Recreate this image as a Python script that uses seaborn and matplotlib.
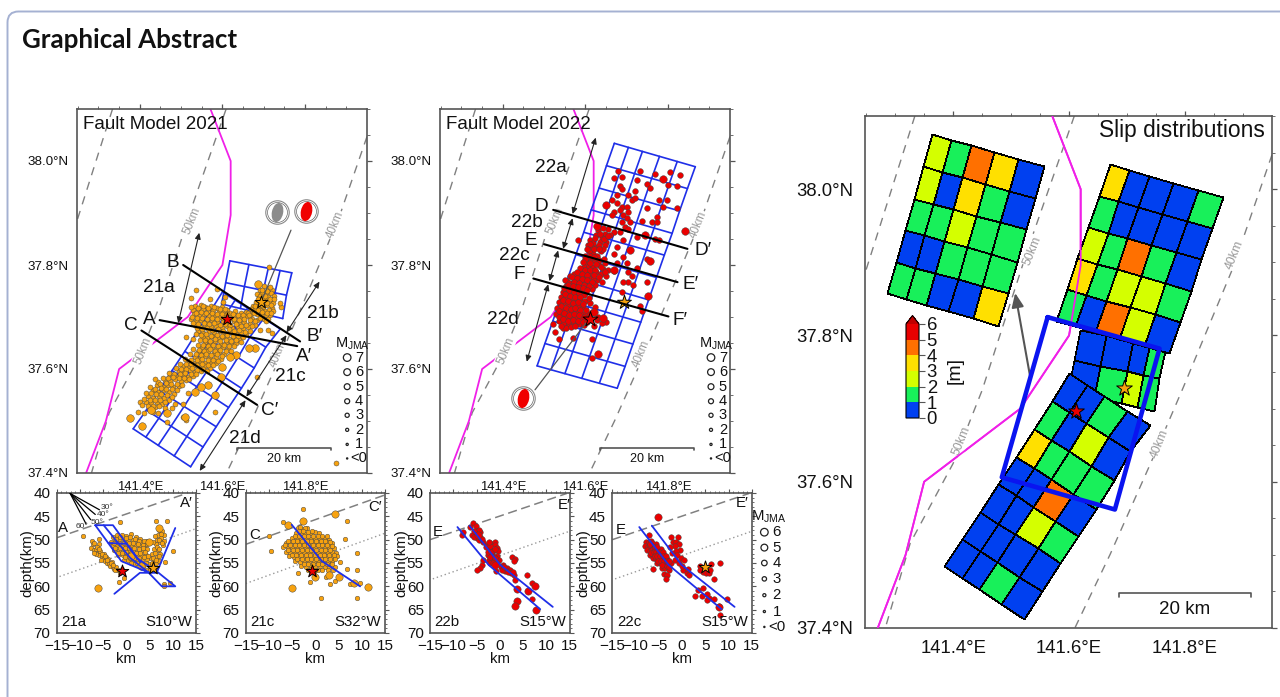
"""
Graphical abstract: fault models 2021 / 2022, depth sections and slip distributions.
"""

import matplotlib
matplotlib.use("Agg")
import matplotlib.pyplot as plt
import numpy as np
import seaborn as sns
from matplotlib.cm import ScalarMappable
from matplotlib.colors import BoundaryNorm, ListedColormap
from matplotlib.markers import MarkerStyle
from matplotlib.patches import FancyBboxPatch
from matplotlib.transforms import Affine2D

# --- map lines (lon, lat) ---
COAST_LON = [141.571, 141.62, 141.62, 141.6, 141.516, 141.35, 141.318, 141.27]
COAST_LAT = [38.1, 38.0, 37.896, 37.8, 37.7, 37.6, 37.5, 37.4]
ISO60_LON = [141.334, 141.248]
ISO60_LAT = [38.1, 37.885]
ISO50_LON = [141.609, 141.528, 141.45, 141.4, 141.326, 141.283]
ISO50_LAT = [38.1, 37.916, 37.725, 37.625, 37.516, 37.4]
ISO40_LON = [141.95, 141.883, 141.797, 141.745, 141.671, 141.61]
ISO40_LAT = [38.047, 37.893, 37.729, 37.633, 37.501, 37.4]
ISO_LABELS = [("50km", 141.527, 37.885), ("50km", 141.407, 37.636),
              ("40km", 141.873, 37.877), ("40km", 141.735, 37.63)]
ISO_LABELS_SLIP = [("50km", 141.536, 37.916), ("50km", 141.415, 37.656),
                   ("40km", 141.886, 37.91), ("40km", 141.757, 37.652)]

# --- fault grids: edge nodes and column fractions ---
SOUTH_LEFT = [(141.384, 37.485), (141.416, 37.521), (141.447, 37.558), (141.478, 37.597),
              (141.509, 37.634), (141.539, 37.672), (141.57, 37.71), (141.6, 37.748)]
SOUTH_RIGHT = [(141.523, 37.412), (141.553, 37.45), (141.585, 37.489), (141.615, 37.526),
               (141.646, 37.563), (141.677, 37.602), (141.705, 37.642), (141.74, 37.677)]
SOUTH_COLS = [0, 0.22, 0.436, 0.714, 1]
NORTH_LEFT = [(141.598, 37.725), (141.608, 37.766), (141.618, 37.808)]
NORTH_RIGHT = [(141.746, 37.697), (141.755, 37.742), (141.768, 37.785)]
NORTH_COLS = [0, 0.308, 0.62, 0.81, 1]
GRID22_LEFT = [(141.670, 38.034), (141.651, 37.991), (141.633, 37.948), (141.614, 37.906),
               (141.596, 37.863), (141.577, 37.820), (141.559, 37.778), (141.540, 37.735),
               (141.521, 37.692), (141.502, 37.649), (141.483, 37.606)]
GRID22_RIGHT = [(141.866, 37.989), (141.847, 37.947), (141.828, 37.904), (141.810, 37.861),
                (141.791, 37.819), (141.772, 37.776), (141.753, 37.733), (141.734, 37.690),
                (141.715, 37.648), (141.696, 37.605), (141.677, 37.563)]
GRID22_COLS = [0, 0.174, 0.347, 0.558, 0.777, 1]
SHIFT_LEFT = [(141.363, 38.075), (141.348, 38.031), (141.333, 37.987),
              (141.317, 37.944), (141.302, 37.900), (141.286, 37.858)]
SHIFT_RIGHT = [(141.557, 38.032), (141.541, 37.988), (141.526, 37.945),
               (141.510, 37.901), (141.494, 37.858), (141.478, 37.813)]
SHIFT_COLS = [0, 0.17, 0.35, 0.55, 0.77, 1]

# --- slip classes [m], rows follow the order of the edge nodes above ---
SLIP_SHIFT = [[2.5, 1.5, 4.5, 3.5, 0.5],
              [2.5, 0.5, 3.5, 1.5, 0.5],
              [1.5, 1.5, 2.5, 1.5, 1.5],
              [0.5, 0.5, 1.5, 1.5, 1.5],
              [1.5, 1.5, 0.5, 0.5, 3.5]]
SLIP_22 = [[3.5, 0.5, 0.5, 0.5, 1.5],
           [1.5, 0.5, 0.5, 0.5, 0.5],
           [2.5, 1.5, 4.5, 1.5, 0.5],
           [3.5, 1.5, 2.5, 2.5, 1.5],
           [1.5, 0.5, 4.5, 2.5, 0.5]]
SLIP_NORTH = [[0.5, 1.5, 2.5, 1.5],
              [0.5, 0.5, 0.5, 1.5]]
SLIP_SOUTH = [[0.5, 0.5, 1.5, 0.5],
              [0.5, 0.5, 0.5, 0.5],
              [0.5, 0.5, 2.5, 1.5],
              [0.5, 0.5, 4.5, 0.5],
              [3.5, 1.5, 1.5, 1.5],
              [1.5, 0.5, 2.5, 0.5],
              [0.5, 0.5, 1.5, 0.5]]
SLIP_BOUNDS = [0, 1, 2, 3, 4, 5, 6]
SLIP_COLORS = ["#0040F0", "#18F05A", "#D4FF00", "#FFE000", "#FF7000", "#E80000"]

# --- epicentres as (lon - 141, lat - 37) ---
QUAKES_21 = [
    (.690, .752), (.701, .759), (.712, .755), (.721, .751), (.684, .744), (.696, .746), (.706, .743), (.717, .746),
    (.725, .741), (.689, .737), (.700, .735), (.711, .738), (.720, .733), (.682, .729), (.694, .728), (.705, .731),
    (.714, .727), (.723, .726), (.688, .721), (.699, .720), (.709, .723), (.719, .718), (.678, .715), (.691, .713),
    (.702, .712), (.712, .714), (.722, .711), (.684, .706), (.696, .705), (.706, .704), (.716, .703), (.701, .697),
    (.711, .696), (.674, .722), (.668, .716),
    (.534, .721), (.548, .724), (.559, .719), (.573, .722), (.587, .717), (.600, .720), (.612, .714),
    (.528, .714), (.541, .712), (.552, .715), (.565, .711), (.578, .713), (.591, .709), (.604, .711), (.618, .708),
    (.631, .711), (.644, .707), (.657, .710), (.670, .705),
    (.531, .705), (.543, .702), (.556, .706), (.568, .701), (.581, .704), (.594, .700), (.607, .703), (.620, .699),
    (.633, .702), (.646, .698), (.659, .701), (.672, .697), (.684, .695),
    (.524, .696), (.536, .692), (.549, .695), (.562, .691), (.575, .694), (.588, .690), (.601, .693), (.614, .689),
    (.627, .692), (.640, .688), (.653, .691), (.666, .687), (.678, .685),
    (.533, .684), (.546, .681), (.559, .684), (.572, .680), (.585, .683), (.598, .679), (.611, .682), (.624, .678),
    (.637, .681), (.650, .677), (.662, .680),
    (.541, .673), (.554, .670), (.567, .674), (.580, .670), (.593, .673), (.606, .669), (.619, .672), (.632, .668),
    (.645, .671), (.657, .667),
    (.552, .662), (.563, .659), (.576, .663), (.589, .659), (.602, .662), (.615, .658), (.628, .661), (.640, .657),
    (.558, .652), (.570, .649), (.583, .653), (.596, .649), (.609, .652), (.621, .648), (.633, .650),
    (.550, .642), (.562, .639), (.575, .643), (.588, .639), (.601, .642), (.614, .638),
    (.541, .633), (.553, .630), (.566, .634), (.579, .630), (.592, .633), (.604, .629),
    (.533, .624), (.545, .621), (.558, .625), (.571, .621), (.584, .623), (.596, .620),
    (.520, .615), (.533, .612), (.546, .616), (.559, .612), (.572, .614), (.584, .611),
    (.505, .606), (.518, .603), (.531, .607), (.544, .603), (.557, .605), (.569, .602),
    (.495, .597), (.508, .594), (.521, .598), (.534, .594), (.547, .596),
    (.478, .588), (.491, .585), (.504, .589), (.517, .585), (.530, .587),
    (.460, .579), (.473, .576), (.486, .580), (.499, .576), (.512, .578),
    (.442, .569), (.455, .566), (.468, .570), (.481, .566), (.494, .568), (.445, .575),
    (.432, .559), (.445, .556), (.458, .560), (.471, .556), (.483, .552),
    (.420, .548), (.433, .545), (.446, .549), (.459, .545), (.470, .541),
    (.415, .537), (.428, .534), (.441, .536), (.453, .532), (.425, .524), (.438, .526),
    (.587, .753), (.537, .751), (.524, .737), (.713, .797), (.684, .585), (.400, .537), (.396, .518), (.485, .533),
    (.505, .533), (.517, .553), (.582, .518), (.743, .720), (.739, .726), (.711, .675), (.719, .669), (.691, .675),
    (.513, .662), (.571, .735), (.606, .739), (.602, .729), (.513, .502), (.505, .508), (.465, .499), (.875, .420),
]
QUAKES_21_EXTRA = [
    (.695, .752), (.707, .750), (.716, .757), (.691, .741), (.702, .740), (.714, .734), (.726, .735), (.685, .735),
    (.697, .724), (.707, .726), (.717, .724), (.680, .722), (.686, .714), (.697, .709), (.708, .708), (.718, .708),
    (.692, .699), (.706, .693), (.676, .708), (.662, .708),
    (.525, .720), (.541, .718), (.553, .722), (.566, .717), (.580, .719), (.594, .715), (.607, .716), (.537, .708),
    (.549, .709), (.561, .707), (.574, .707), (.586, .705), (.599, .706), (.612, .705), (.625, .705), (.638, .704),
    (.651, .704), (.664, .703), (.527, .700), (.538, .698), (.550, .699), (.562, .697), (.575, .699), (.588, .696),
    (.601, .698), (.613, .695), (.627, .697), (.640, .694), (.652, .696), (.666, .694), (.678, .692), (.530, .689),
    (.542, .687), (.555, .689), (.567, .686), (.580, .688), (.593, .684), (.606, .687), (.619, .684), (.632, .686),
    (.645, .683), (.658, .685), (.672, .682), (.538, .678), (.550, .676), (.563, .678), (.576, .675), (.589, .677),
    (.602, .674), (.615, .677), (.628, .673), (.641, .675), (.654, .672), (.667, .674), (.535, .668), (.547, .665),
    (.560, .667), (.573, .664), (.586, .666), (.599, .664), (.612, .665), (.625, .663), (.638, .664), (.650, .662),
    (.530, .657), (.545, .655), (.557, .656), (.569, .654), (.582, .657), (.595, .654), (.608, .656), (.620, .654),
    (.634, .655), (.645, .652), (.540, .647), (.552, .646), (.564, .644), (.577, .647), (.590, .644), (.603, .647),
    (.616, .644), (.628, .645), (.530, .638), (.544, .637), (.556, .635), (.569, .638), (.582, .635), (.595, .637),
    (.608, .634), (.620, .635), (.522, .628), (.535, .628), (.547, .626), (.560, .629), (.573, .626), (.586, .628),
    (.599, .625), (.510, .619), (.525, .618), (.538, .617), (.551, .620), (.564, .617), (.577, .618), (.590, .615),
    (.498, .610), (.512, .609), (.525, .610), (.538, .608), (.551, .610), (.564, .607), (.577, .608), (.488, .601),
    (.500, .600), (.513, .600), (.526, .601), (.539, .599), (.552, .600), (.563, .597), (.470, .592), (.484, .591),
    (.497, .590), (.510, .592), (.523, .590), (.537, .590), (.455, .583), (.468, .583), (.481, .584), (.494, .582),
    (.507, .582), (.520, .581), (.438, .580), (.450, .572), (.463, .573), (.476, .571), (.489, .572), (.503, .570),
    (.425, .565), (.438, .562), (.451, .563), (.464, .562), (.477, .561), (.490, .560), (.415, .553), (.427, .553),
    (.440, .552), (.452, .552), (.465, .550), (.478, .546), (.410, .542), (.424, .540), (.436, .540), (.449, .540),
    (.462, .537), (.405, .530), (.420, .529), (.433, .529), (.446, .528), (.432, .518), (.445, .515), (.478, .525),
    (.460, .525), (.410, .515),
]
QUAKES_21_BIG = [(.687, .763), (.376, .505), (.406, .490), (.679, .640), (.634, .627), (.598, .604), (.596, .585),
                 (.566, .569), (.549, .565), (.533, .556), (.582, .550), (.509, .508), (.465, .515), (.428, .521),
                 (.618, .624), (.665, .640)]
QUAKES_22 = [
    (.668, .967), (.688, .970), (.678, .981), (.732, .981), (.769, .975), (.805, .978), (.829, .973), (.801, .954),
    (.821, .952), (.724, .963), (.748, .955), (.757, .949), (.684, .952), (.688, .947), (.676, .935), (.720, .943),
    (.704, .935), (.712, .925), (.664, .925), (.676, .919), (.688, .912), (.700, .912), (.720, .928), (.668, .902),
    (.684, .906), (.704, .902), (.664, .896), (.692, .896), (.700, .890), (.688, .883), (.708, .883), (.696, .874),
    (.704, .870), (.684, .864), (.748, .909), (.777, .925), (.797, .925), (.789, .912), (.821, .909), (.736, .885),
    (.761, .883), (.773, .892), (.773, .883), (.769, .850), (.777, .849), (.724, .854),
    (.655, .870), (.668, .864), (.647, .860), (.660, .858), (.639, .851), (.651, .845), (.611, .848), (.619, .842),
    (.583, .849), (.692, .848), (.676, .835), (.668, .821), (.692, .816), (.647, .803), (.676, .803), (.700, .803),
    (.748, .811), (.724, .794), (.704, .787), (.712, .778), (.704, .768), (.692, .768), (.716, .762), (.748, .768),
    (.688, .749), (.732, .721), (.736, .712), (.651, .691), (.639, .688), (.617, .658), (.615, .622), (.571, .659),
    (.536, .657), (.526, .671), (.522, .687), (.546, .678),
    (.631, .868), (.642, .872), (.626, .858), (.636, .845), (.648, .838), (.628, .835), (.616, .832), (.606, .838),
    (.638, .826), (.618, .822), (.608, .826), (.628, .818), (.600, .818), (.612, .812), (.622, .808), (.602, .806),
    (.596, .797), (.608, .799), (.618, .796), (.632, .800), (.642, .792), (.655, .790), (.668, .788), (.590, .788),
    (.601, .786), (.613, .783), (.626, .786), (.638, .782), (.650, .778), (.628, .772), (.640, .768), (.618, .774),
    (.607, .776), (.595, .778), (.585, .781), (.573, .783), (.562, .778), (.574, .774), (.586, .771), (.598, .768),
    (.610, .765), (.622, .762), (.556, .770), (.567, .766), (.579, .763), (.591, .760), (.603, .757), (.615, .753),
    (.552, .760), (.563, .756), (.575, .753), (.587, .750), (.599, .747), (.558, .748), (.570, .744), (.582, .741),
    (.545, .748), (.540, .738), (.551, .736), (.563, .733), (.575, .731), (.587, .734), (.600, .730), (.535, .729),
    (.546, .726), (.558, .723), (.570, .721), (.582, .722), (.595, .719), (.610, .726), (.622, .720), (.532, .718),
    (.543, .715), (.555, .712), (.567, .710), (.579, .712), (.590, .708), (.602, .706), (.615, .710), (.530, .706),
    (.541, .703), (.553, .700), (.565, .698), (.577, .700), (.589, .697), (.600, .694), (.628, .694), (.536, .692),
    (.548, .689), (.560, .687), (.572, .689), (.584, .686), (.596, .684), (.552, .678), (.565, .680), (.620, .682),
    (.630, .700), (.612, .697),
    (.635, .860), (.622, .852), (.645, .850), (.655, .855), (.633, .838), (.643, .830), (.612, .840), (.620, .830),
    (.632, .830), (.605, .830), (.610, .818), (.620, .815), (.633, .810), (.645, .812), (.600, .812), (.595, .805),
    (.612, .804), (.625, .802), (.637, .796), (.586, .795), (.598, .790), (.610, .790), (.622, .790), (.648, .786),
    (.580, .787), (.592, .783), (.604, .780), (.620, .780), (.633, .776), (.568, .776), (.580, .775), (.592, .773),
    (.604, .771), (.616, .768), (.550, .772), (.560, .766), (.573, .768), (.585, .765), (.597, .762), (.609, .759),
    (.557, .762), (.569, .759), (.581, .757), (.593, .755), (.605, .752), (.548, .755), (.560, .751), (.572, .748),
    (.584, .746), (.596, .742), (.550, .745), (.563, .740), (.575, .738), (.588, .738), (.608, .737), (.545, .733),
    (.557, .730), (.569, .727), (.581, .728), (.594, .725), (.540, .722), (.552, .718), (.564, .716), (.576, .717),
    (.588, .714), (.602, .714), (.537, .712), (.549, .708), (.561, .704), (.573, .705), (.585, .703), (.596, .700),
    (.535, .700), (.546, .696), (.558, .693), (.570, .694), (.582, .692), (.594, .690), (.542, .682), (.575, .682),
    (.612, .705), (.604, .690),
]
QUAKES_22_BIG = [(.789, .965), (.651, .915), (.841, .866), (.744, .858), (.627, .875), (.708, .829), (.757, .808),
                 (.752, .740), (.643, .699), (.631, .628), (.620, .710), (.668, .790)]

# --- section hypocentres (km along section, depth km) ---
SECTION_21A = [
    (-7.5, 50.2), (-7.2, 51.0), (-7.6, 51.8), (-7.0, 52.2), (-6.5, 52.0), (-6.2, 52.8), (-5.8, 53.2), (-6.6, 53.0),
    (-5.3, 53.6), (-5.0, 54.2), (-4.6, 54.6), (-5.5, 54.4), (-4.2, 55.0), (-3.8, 55.2), (-4.4, 53.8), (-3.5, 55.6),
    (-3.0, 55.9), (-2.6, 56.2), (-2.2, 55.8), (-3.2, 54.8), (-1.8, 56.6), (-1.4, 57.2), (-6.9, 52.8), (-5.6, 52.4),
    (-4.9, 53.0), (-3.9, 54.2), (-2.8, 49.4), (-2.0, 49.0), (-1.0, 48.9), (0.0, 49.2), (1.0, 48.8), (2.0, 49.4),
    (3.0, 49.8), (-3.4, 50.4), (-2.5, 50.2), (-1.6, 50.0), (-0.6, 50.1), (0.4, 50.2), (1.4, 50.0), (2.4, 50.4),
    (3.4, 50.6), (4.4, 50.2), (-3.0, 51.2), (-2.0, 51.1), (-1.0, 51.3), (0.0, 51.1), (1.0, 51.3), (2.0, 51.2),
    (3.0, 51.4), (4.0, 51.2), (-2.6, 52.2), (-1.5, 52.3), (-0.5, 52.1), (0.5, 52.3), (1.5, 52.2), (2.5, 52.4),
    (3.5, 52.2), (4.5, 52.0), (-1.8, 53.2), (-0.8, 53.3), (0.2, 53.2), (1.2, 53.4), (2.2, 53.2), (3.2, 53.3),
    (4.2, 53.2), (-0.6, 54.3), (0.4, 54.4), (1.4, 54.3), (2.4, 54.4), (3.4, 54.3), (4.4, 54.2), (1.8, 55.3),
    (2.8, 55.2), (3.8, 55.4), (4.8, 55.2), (5.2, 54.0), (5.6, 53.0), (6.0, 52.0), (6.4, 51.0), (6.6, 50.0),
    (6.8, 49.0), (7.0, 48.0), (7.6, 48.2), (8.0, 49.0), (7.4, 49.6), (8.0, 50.2), (7.2, 50.6), (7.8, 51.2),
    (6.8, 52.2), (7.2, 53.0), (6.6, 53.8), (6.0, 54.6), (5.4, 55.4), (6.4, 55.0), (7.0, 54.6), (8.2, 54.8),
    (5.0, 56.2), (4.2, 56.4), (3.4, 56.0), (6.2, 56.2), (-5.8, 49.8), (-6.0, 51.0),
    (-9.4, 49.3), (-1.4, 46.2), (8.7, 46.1), (10.0, 52.4), (8.1, 59.6), (9.4, 59.3), (-1.7, 59.1), (-0.6, 58.2),
    (8.0, 60.0), (6.4, 46.1),
    (-2.3, 49.8), (-1.3, 49.5), (-0.2, 49.7), (0.8, 49.5), (1.8, 49.9), (2.8, 50.2), (3.8, 50.2), (-2.7, 50.8),
    (-1.6, 50.7), (-0.5, 50.7), (0.5, 50.7), (1.5, 50.7), (2.5, 50.9), (3.5, 51.1), (4.5, 50.9), (-2.4, 51.7),
    (-1.4, 51.8), (-0.4, 51.7), (0.6, 51.8), (1.6, 51.8), (2.6, 51.9), (3.6, 51.8), (-1.9, 52.8), (-1.0, 52.8),
    (0.0, 52.7), (1.0, 52.9), (2.0, 52.8), (3.0, 52.9), (4.0, 52.7), (-0.3, 53.8), (0.7, 53.9), (1.7, 53.9),
    (2.7, 53.9), (3.7, 53.8), (4.7, 53.5), (0.9, 54.9), (2.2, 54.9), (3.2, 54.9), (4.2, 54.9), (5.8, 50.5),
    (6.2, 49.2), (6.9, 50.1), (7.4, 48.8), (7.6, 50.8), (6.5, 51.6), (7.0, 52.0), (6.2, 52.9), (6.9, 53.5),
    (5.8, 53.9), (6.3, 54.3), (5.6, 55.0), (-7.0, 50.8), (-6.4, 51.5), (-5.9, 52.0), (-5.3, 53.0), (-4.7, 53.6),
    (-4.1, 54.4), (-3.4, 55.1), (-2.8, 55.4), (-2.4, 56.4), (-1.0, 56.3),
]
SECTION_21A_BIG = [(-6.2, 60.4), (4.8, 50.6), (7.0, 47.4), (1.0, 53.6), (3.2, 55.6)]
SECTION_21C = [
    (-2.7, 43.4), (-6.9, 46.2), (6.8, 46.1), (6.4, 49.9), (1.2, 62.5), (9.0, 62.5), (9.0, 56.6), (8.9, 52.9),
    (6.8, 56.3), (-9.6, 52.4), (-9.9, 49.3), (7.5, 59.6), (9.5, 59.3), (3.2, 59.6), (4.2, 58.9), (-1.1, 59.1),
    (2.3, 58.0), (-3.7, 57.1),
    (-3.8, 47.4), (-2.8, 47.8), (-1.8, 47.6), (-4.2, 48.6), (-3.2, 48.6), (-2.2, 48.8), (-1.2, 48.6), (-0.2, 48.4),
    (0.8, 48.6), (-5.0, 49.6), (-4.0, 49.6), (-3.0, 49.8), (-2.0, 49.6), (-1.0, 49.8), (0.0, 49.6), (1.0, 49.8),
    (2.0, 49.6), (3.0, 50.0), (-6.4, 50.8), (-5.4, 50.6), (-4.4, 50.8), (-3.4, 50.6), (-2.4, 50.8), (-1.4, 50.6),
    (-0.4, 50.8), (0.6, 50.6), (1.6, 50.8), (2.6, 50.6), (3.6, 50.8), (-7.0, 51.6), (-6.0, 51.8), (-5.0, 51.6),
    (-4.0, 51.8), (-3.0, 51.6), (-2.0, 51.8), (-1.0, 51.6), (0.0, 51.8), (1.0, 51.6), (2.0, 51.8), (3.0, 51.6),
    (4.0, 51.8), (-6.4, 52.6), (-5.4, 52.8), (-4.4, 52.6), (-3.4, 52.8), (-2.4, 52.6), (-1.4, 52.8), (-0.4, 52.6),
    (0.6, 52.8), (1.6, 52.6), (2.6, 52.8), (3.6, 52.6), (4.4, 52.8), (-5.6, 53.6), (-4.6, 53.8), (-3.6, 53.6),
    (-2.6, 53.8), (-1.6, 53.6), (-0.6, 53.8), (0.4, 53.6), (1.4, 53.8), (2.4, 53.6), (3.4, 53.8), (4.6, 53.6),
    (-4.4, 54.6), (-3.4, 54.8), (-2.4, 54.6), (-1.4, 54.8), (-0.4, 54.6), (0.6, 54.8), (1.6, 54.6), (2.6, 54.8),
    (3.6, 54.6), (5.2, 54.8), (-3.0, 55.6), (-2.0, 55.8), (-1.0, 55.6), (0.0, 55.8), (1.0, 55.6), (2.0, 55.8),
    (3.0, 55.8), (4.2, 55.8), (-1.6, 56.6), (-0.4, 57.0), (0.6, 56.6),
    (-3.3, 47.2), (-2.3, 47.4), (-3.6, 48.2), (-2.7, 48.2), (-1.7, 48.3), (-0.7, 48.1), (-4.5, 49.2), (-3.5, 49.2),
    (-2.5, 49.3), (-1.5, 49.2), (-0.5, 49.2), (0.5, 49.2), (1.5, 49.3), (2.5, 49.3), (-5.9, 50.2), (-4.9, 50.2),
    (-3.9, 50.3), (-2.9, 50.2), (-1.9, 50.3), (-0.9, 50.2), (0.1, 50.3), (1.1, 50.2), (2.1, 50.3), (3.1, 50.4),
    (-6.6, 51.2), (-5.5, 51.2), (-4.5, 51.2), (-3.5, 51.2), (-2.5, 51.2), (-1.5, 51.2), (-0.5, 51.2), (0.5, 51.2),
    (1.5, 51.2), (2.5, 51.2), (3.5, 51.3), (-5.9, 52.2), (-4.9, 52.2), (-3.9, 52.2), (-2.9, 52.2), (-1.9, 52.2),
    (-0.9, 52.2), (0.1, 52.2), (1.1, 52.2), (2.1, 52.2), (3.1, 52.2), (-5.1, 53.2), (-4.1, 53.2), (-3.1, 53.2),
    (-2.1, 53.2), (-1.1, 53.2), (-0.1, 53.2), (0.9, 53.2), (1.9, 53.2), (2.9, 53.2), (3.9, 53.2), (-3.9, 54.2),
    (-2.9, 54.2), (-1.9, 54.2), (-0.9, 54.2), (0.1, 54.2), (1.1, 54.2), (2.1, 54.2), (3.1, 54.2), (4.1, 54.2),
    (-2.5, 55.2), (-1.5, 55.2), (-0.5, 55.2), (0.5, 55.2), (1.5, 55.2), (2.5, 55.2), (3.5, 55.2), (-1.0, 56.3),
    (0.0, 56.4), (1.5, 56.6), (2.6, 56.6), (3.8, 56.6),
]
SECTION_21C_BIG = [(-6.0, 46.8), (-2.6, 46.1), (4.2, 44.5), (-5.1, 60.4), (11.2, 60.2), (8.2, 59.3), (-0.1, 57.9),
                   (3.0, 57.6), (5.0, 58.0)]
SECTION_22B = [
    (-8.2, 48.9), (-7.8, 48.3), (-5.8, 46.4), (-5.1, 47.1), (-6.4, 47.3), (-5.3, 48.6), (-4.2, 48.4), (-5.0, 49.6),
    (-6.0, 48.9), (-4.4, 50.0), (-3.5, 50.4), (-2.8, 51.1), (-2.1, 50.7), (-1.0, 50.4), (-1.1, 51.1), (-0.6, 51.8),
    (-2.2, 52.1), (-1.4, 52.5), (-0.3, 52.5), (-2.6, 53.2), (-1.7, 53.2), (-0.6, 53.4), (-2.4, 54.3), (-1.5, 54.1),
    (-3.9, 55.4), (-4.2, 56.1), (-4.8, 56.6), (-3.7, 54.3), (2.6, 53.7), (3.3, 54.1), (3.0, 54.5), (-0.1, 54.3),
    (0.8, 55.4), (1.5, 56.1), (2.1, 56.6), (1.2, 56.8), (3.0, 57.5), (3.3, 58.6), (5.8, 57.5), (6.9, 59.3),
    (7.0, 62.7), (-0.8, 56.8), (0.2, 55.9), (2.4, 57.2), (-3.0, 51.6), (-2.0, 51.4), (-1.2, 53.8), (-2.2, 55.0),
    (-4.9, 48.2), (-4.5, 47.9), (-5.6, 48.2), (-5.5, 49.4), (-4.2, 49.4), (-3.8, 49.8), (-2.4, 50.4), (-2.6, 52.6),
    (-1.9, 52.7), (-1.0, 52.0), (-2.0, 53.7), (-1.0, 54.0), (-1.5, 54.9), (-0.5, 55.0), (0.5, 56.4), (1.0, 55.8),
    (1.8, 57.0), (2.8, 57.0),
]
SECTION_22B_BIG = [(-4.6, 48.9), (-1.0, 55.4), (3.8, 60.5), (3.8, 63.1), (3.3, 64.3), (7.6, 60.0), (6.0, 61.1),
                   (7.8, 65.0)]
SECTION_22C = [
    (-7.2, 49.0), (-7.8, 50.4), (-7.2, 50.6), (-6.6, 50.2), (-8.0, 51.4), (-7.4, 51.6), (-6.8, 51.4), (-6.2, 51.2),
    (-5.6, 51.0), (-7.6, 52.2), (-7.0, 52.4), (-6.4, 52.2), (-5.8, 52.0), (-5.2, 52.2), (-4.6, 52.0), (-6.8, 53.2),
    (-6.2, 53.2), (-5.6, 53.0), (-5.0, 53.2), (-4.4, 53.0), (-3.8, 53.2), (-6.2, 54.0), (-5.6, 54.2), (-5.0, 54.0),
    (-4.4, 54.2), (-3.8, 54.0), (-3.2, 54.2), (-5.4, 55.0), (-4.8, 55.0), (-4.2, 55.2), (-3.6, 55.0), (-3.0, 55.2),
    (-2.4, 55.0), (-6.2, 56.2), (-4.4, 56.0), (-3.6, 56.0), (-2.8, 56.4), (-3.8, 57.4), (-3.2, 57.6), (-3.4, 58.4),
    (-2.4, 49.4), (-2.0, 50.6), (-1.2, 50.4), (-0.8, 49.4), (-0.6, 51.0), (-1.6, 51.4), (-2.6, 51.6), (-0.4, 52.2),
    (-1.4, 52.4), (-2.2, 52.8), (-1.0, 53.2), (-0.2, 54.0), (0.4, 54.4), (-1.6, 54.4), (-0.6, 55.0), (0.2, 56.6),
    (1.0, 57.1), (-0.1, 55.6), (1.2, 56.2), (1.4, 57.6),
    (3.9, 55.6), (4.2, 56.4), (4.5, 57.0), (5.2, 57.2), (5.9, 57.2), (6.3, 55.2), (3.9, 56.4), (6.0, 56.4),
    (8.2, 54.9), (2.8, 62.1), (3.5, 60.7), (4.6, 60.4), (4.2, 62.1), (5.3, 61.6), (5.7, 62.5), (6.8, 62.7),
    (5.3, 62.9), (8.0, 64.3), (8.2, 66.2), (9.6, 62.7), (6.9, 58.4),
    (-6.5, 50.8), (-7.0, 51.0), (-5.9, 51.6), (-5.3, 51.6), (-6.7, 52.8), (-6.1, 52.7), (-5.5, 52.6), (-4.9, 52.7),
    (-4.2, 52.6), (-5.9, 53.6), (-5.3, 53.6), (-4.7, 53.6), (-4.1, 53.6), (-3.5, 53.6), (-5.1, 54.6), (-4.5, 54.6),
    (-3.9, 54.6), (-3.3, 54.6), (-2.7, 54.6), (-4.4, 55.5), (-3.3, 55.6), (-2.7, 55.8),
]
SECTION_22C_BIG = [(-5.1, 45.2), (8.0, 64.5)]

# --- section lines ---
SECTIONS = {
    "21a": {"dash": [(-15, 49.6), (12, 40.4)], "dot": [(-14.4, 57.9), (14.8, 47.7)], "left": "A", "right": "A′",
            "left_pos": (-13.7, 47.5), "right_pos": (13.0, 42.2), "strike": "S10°W"},
    "21c": {"dash": [(-15, 51.0), (15, 40.4)], "dot": [(-15, 59.4), (15, 48.6)], "left": "C", "right": "C′",
            "left_pos": (-13.0, 49.0), "right_pos": (12.8, 43.0), "strike": "S32°W"},
    "22b": {"dash": [(-15, 50.0), (14.4, 40.1)], "dot": [(-14.4, 58.4), (15, 48.2)], "left": "E", "right": "E′",
            "left_pos": (-13.3, 48.3), "right_pos": (13.8, 42.5), "strike": "S15°W"},
    "22c": {"dash": [(-15, 50.0), (14.4, 40.1)], "dot": [(-14.4, 58.4), (15, 48.2)], "left": "E", "right": "E′",
            "left_pos": (-13.2, 48.0), "right_pos": (13.0, 42.2), "strike": "S15°W"},
}
FAULTS_21A = [
    [(-6.7, 46.9), (-2.9, 46.9), (2.2, 53.9), (6.9, 57.1), (10.5, 60.0), (7.6, 60.0), (4.7, 57.0), (-1.1, 54.6), (-6.7, 46.9)],
    [(-4.9, 46.9), (0.8, 53.9), (4.7, 57.0)],
    [(-3.9, 50.7), (0.1, 50.9), (3.0, 54.8)],
    [(-2.6, 61.6), (2.9, 57.1), (6.5, 57.1), (10.5, 47.5)],
]
FAULTS_21C = [[(-5.1, 46.8), (1.4, 54.6), (9.6, 60.0)]]
FAULTS_22B = [[(-9.1, 47.3), (-2.4, 55.4), (8.7, 64.9)], [(-6.5, 47.0), (0.1, 55.4), (11.4, 64.4)]]
FAULTS_22C = [[(-9.2, 47.3), (-2.9, 55.4), (8.5, 64.9)], [(-6.5, 47.0), (-0.1, 55.4), (11.3, 64.4)]]
FAN_LABELS = [("30°", -4.2, 43.2), ("40°", -5.1, 44.6), ("50°", -6.4, 46.4), ("60°", -9.5, 47.1)]
FAN_ENDS = [(-5.8, 43.6), (-6.7, 44.6), (-7.7, 45.7), (-8.7, 46.6)]

# --- map annotations ---
CROSS_21 = [[(141.448, 37.694), (141.781, 37.644)], [(141.505, 37.800), (141.788, 37.653)],
            [(141.404, 37.674), (141.684, 37.531)]]
CROSS_22 = [[(141.522, 37.906), (141.847, 37.831)], [(141.50, 37.840), (141.823, 37.767)],
            [(141.474, 37.774), (141.801, 37.701)]]
LABELS_21 = [("B", 141.481, 37.805), ("A", 141.423, 37.695), ("C", 141.378, 37.683), ("A′", 141.798, 37.624),
             ("B′", 141.823, 37.662), ("C′", 141.715, 37.520), ("21a", 141.446, 37.757), ("21b", 141.844, 37.706),
             ("21c", 141.764, 37.585), ("21d", 141.654, 37.467)]
LABELS_22 = [("D", 141.494, 37.913), ("E", 141.468, 37.847), ("F", 141.441, 37.781), ("D′", 141.884, 37.828),
             ("E′", 141.855, 37.762), ("F′", 141.828, 37.694), ("22a", 141.516, 37.988), ("22b", 141.459, 37.881),
             ("22c", 141.427, 37.819), ("22d", 141.401, 37.695)]
ARROWS_21 = [[(141.544, 37.862), (141.493, 37.688)], [(141.835, 37.768), (141.755, 37.670)],
             [(141.755, 37.665), (141.658, 37.547)], [(141.656, 37.540), (141.545, 37.404)]]
ARROWS_22 = [[(141.625, 38.045), (141.569, 37.898)], [(141.569, 37.890), (141.546, 37.831)],
             [(141.534, 37.828), (141.513, 37.769)], [(141.510, 37.763), (141.458, 37.614)]]
EPI_RED = (141.612, 37.696)
EPI_ORANGE = (141.694, 37.728)
MAG_LABELS = ["7", "6", "5", "4", "3", "2", "1", "<0"]
MAG_LATS = [37.622, 37.594, 37.566, 37.538, 37.511, 37.483, 37.455, 37.428]
MAG_SIZES = [30, 24, 18, 13, 9, 5, 2.5, 0.8]
SEC_MAG_LABELS = ["6", "5", "4", "3", "2", "1", "<0"]
SEC_MAG_DEPTHS = [48.4, 51.7, 55.0, 58.4, 61.9, 65.4, 68.7]
SEC_MAG_SIZES = [30, 24, 16, 10, 5, 2.5, 0.8]
RECT_LON = [141.563, 141.756, 141.679, 141.484, 141.563]
RECT_LAT = [37.825, 37.782, 37.562, 37.606, 37.825]

FIG_W, FIG_H = 1280, 697
GREY = "#555555"
ORANGE = "#F7A20F"
RED = "#EA0000"
BLUE = "#1F2FE8"
MAGENTA = "#F020E8"
ISO = "#808080"

sns.set_theme(style="white")
plt.rcParams["font.family"] = ["Liberation Sans", "DejaVu Sans"]
plt.rcParams["mathtext.fontset"] = "custom"
plt.rcParams["mathtext.rm"] = "Liberation Sans"
plt.rcParams["text.color"] = "#111111"
plt.rcParams["xtick.labelcolor"] = "#111111"
plt.rcParams["ytick.labelcolor"] = "#111111"
plt.rcParams["axes.labelcolor"] = "#111111"

fig = plt.figure(figsize=(FIG_W / 100, FIG_H / 100), dpi=100)


def add_box(left, top, right, bottom):
    return fig.add_axes([left / FIG_W, 1 - bottom / FIG_H, (right - left) / FIG_W, (bottom - top) / FIG_H])


def grid_nodes(left_edge, right_edge, cols):
    left_edge, right_edge, cols = np.array(left_edge), np.array(right_edge), np.array(cols)
    x = np.outer(left_edge[:, 0], 1 - cols) + np.outer(right_edge[:, 0], cols)
    y = np.outer(left_edge[:, 1], 1 - cols) + np.outer(right_edge[:, 1], cols)
    return x, y


def draw_line(ax, xs, ys, **kws):
    sns.lineplot(x=list(xs), y=list(ys), sort=False, estimator=None, errorbar=None, legend=False, ax=ax, **kws)


def draw_grid(ax, left_edge, right_edge, cols):
    x, y = grid_nodes(left_edge, right_edge, cols)
    for i in range(x.shape[0]):
        draw_line(ax, x[i], y[i], color=BLUE, linewidth=1.2, zorder=3)
    for j in range(x.shape[1]):
        draw_line(ax, x[:, j], y[:, j], color=BLUE, linewidth=1.2, zorder=3)


def draw_quakes(ax, points, color, size, zorder=4):
    pts = np.array(points)
    sns.scatterplot(x=pts[:, 0], y=pts[:, 1], s=size, color=color, edgecolor="#444444", linewidth=0.33,
                    zorder=zorder, legend=False, clip_on=True, ax=ax)


def draw_star(ax, x, y, color, size=90, zorder=6):
    sns.scatterplot(x=[x], y=[y], marker="*", s=size, color=color, edgecolor="black", linewidth=0.7,
                    zorder=zorder, legend=False, ax=ax)


def draw_ball(ax, lon, lat, color):
    ax.scatter([lon], [lat], s=285, facecolor="white", edgecolor="#888888", linewidth=0.8, zorder=7)
    ax.scatter([lon], [lat], s=205, facecolor="white", edgecolor="#444444", linewidth=0.4, zorder=7)
    shape = MarkerStyle("o", transform=Affine2D().scale(0.58, 1.0).rotate_deg(-12))
    ax.scatter([lon], [lat], s=195, marker=shape, color=color, linewidth=0, zorder=8)


def style_map(ax, size_x, size_y):
    ax.set_xlim(141.248, 141.95)
    ax.set_ylim(37.4, 38.1)
    ax.set_xticks([141.4, 141.6, 141.8], ["141.4°E", "141.6°E", "141.8°E"], fontsize=size_x)
    ax.set_yticks([37.4, 37.6, 37.8, 38.0], ["37.4°N", "37.6°N", "37.8°N", "38.0°N"], fontsize=size_y)
    ax.set_xticks(np.arange(141.25, 141.95, 0.05), minor=True)
    ax.set_yticks(np.arange(37.4, 38.1, 0.05), minor=True)
    ax.tick_params(which="major", direction="out", length=3.5, width=0.9, color=GREY, top=True, right=True, pad=2.5)
    ax.tick_params(which="minor", direction="out", length=2, width=0.6, color=GREY, top=True, right=True)
    for side in ax.spines.values():
        side.set_color(GREY)
        side.set_linewidth(1.2)


def draw_base(ax):
    draw_line(ax, ISO60_LON, ISO60_LAT, color=ISO, linewidth=1.0, linestyle=(0, (6, 5)), zorder=1)
    draw_line(ax, ISO50_LON, ISO50_LAT, color=ISO, linewidth=1.0, linestyle=(0, (6, 5)), zorder=1)
    draw_line(ax, ISO40_LON, ISO40_LAT, color=ISO, linewidth=1.0, linestyle=(0, (6, 5)), zorder=1)
    draw_line(ax, COAST_LON, COAST_LAT, color=MAGENTA, linewidth=1.3, zorder=2)


def iso_labels(ax, labels, size):
    for text, lon, lat in labels:
        ax.text(lon, lat, text, color="#999999", fontsize=size, rotation=68, ha="center", va="center", zorder=2,
                bbox=dict(facecolor="white", edgecolor="none", pad=0.6))


def annotate_map(ax, cross, labels, arrows):
    for (p0, p1) in cross:
        draw_line(ax, [p0[0], p1[0]], [p0[1], p1[1]], color="black", linewidth=1.5, zorder=9)
    for text, lon, lat in labels:
        ax.text(lon, lat, text, fontsize=13.7, ha="center", va="center", zorder=10)
    for (p0, p1) in arrows:
        ax.annotate("", xy=p1, xytext=p0, zorder=9,
                    arrowprops=dict(arrowstyle="<|-|>,head_width=0.14,head_length=0.3", color="#222222", lw=0.8,
                                    shrinkA=0, shrinkB=0))


def magnitude_key(ax, lon0):
    ax.text(lon0 + 0.012, 37.648, r"M$_{\mathrm{JMA}}$", fontsize=10.5, ha="center", va="center", zorder=10)
    sns.scatterplot(x=[lon0] * len(MAG_LATS), y=MAG_LATS, size=MAG_SIZES, sizes=(0.8, 30), facecolor="white",
                    edgecolor="#222222", linewidth=0.9, legend=False, zorder=10, ax=ax)
    for label, lat in zip(MAG_LABELS, MAG_LATS):
        ax.text(lon0 + 0.029, lat, label, fontsize=10.5, ha="center", va="center", zorder=10)


def scale_bar(ax, lon0, lon1, lat, size):
    draw_line(ax, [lon0, lon0, lon1, lon1], [lat - 0.005, lat, lat, lat - 0.005], color=GREY, linewidth=1.2, zorder=5)
    ax.text((lon0 + lon1) / 2, lat - 0.023, "20 km", fontsize=size, ha="center", va="center", zorder=5)


# --- page card ---
bg = fig.add_axes([0, 0, 1, 1], zorder=-5)
bg.set_xlim(0, FIG_W)
bg.set_ylim(FIG_H, 0)
bg.axis("off")
bg.add_patch(FancyBboxPatch((7.5, 11.5), 1400, 800, boxstyle="round,pad=0,rounding_size=11",
                            facecolor="white", edgecolor="#A5B1D2", linewidth=1.4))
bg.text(22, 40, "Graphical Abstract", fontsize=18.6, fontweight="bold", family="Lato", color="#111111",
        ha="left", va="center")

# --- Fault Model 2021 ---
ax = add_box(77, 109, 367, 473)
style_map(ax, 9.4, 9.6)
draw_base(ax)
iso_labels(ax, ISO_LABELS, 8.3)
draw_grid(ax, NORTH_LEFT, NORTH_RIGHT, NORTH_COLS)
draw_grid(ax, SOUTH_LEFT, SOUTH_RIGHT, SOUTH_COLS)
draw_line(ax, [141.766, 141.699], [37.867, 37.739], color=GREY, linewidth=0.9, zorder=5)
draw_quakes(ax, [(141 + a, 37 + b) for a, b in QUAKES_21 + QUAKES_21_EXTRA], ORANGE, 13)
draw_quakes(ax, [(141 + a, 37 + b) for a, b in QUAKES_21_BIG], ORANGE, 30)
draw_star(ax, *EPI_RED, RED)
draw_star(ax, *EPI_ORANGE, ORANGE)
draw_ball(ax, 141.733, 37.901, "#8C8C8C")
draw_ball(ax, 141.802, 37.903, "#F00000")
annotate_map(ax, CROSS_21, LABELS_21, ARROWS_21)
magnitude_key(ax, 141.902)
scale_bar(ax, 141.636, 141.862, 37.449, 9)
ax.text(141.262, 38.07, "Fault Model 2021", fontsize=13.5, ha="left", va="center", zorder=10)

# --- Fault Model 2022 ---
ax = add_box(440, 109, 730, 473)
style_map(ax, 9.4, 9.6)
draw_base(ax)
iso_labels(ax, ISO_LABELS, 8.3)
draw_grid(ax, GRID22_LEFT, GRID22_RIGHT, GRID22_COLS)
draw_line(ax, [141.601, 141.478], [37.688, 37.560], color=GREY, linewidth=0.9, zorder=5)
draw_quakes(ax, [(141 + a, 37 + b) for a, b in QUAKES_22], RED, 17)
draw_quakes(ax, [(141 + a, 37 + b) for a, b in QUAKES_22_BIG], RED, 30)
draw_star(ax, 141.612, 37.696, RED, size=130)
draw_star(ax, *EPI_ORANGE, ORANGE, size=110)
draw_ball(ax, 141.449, 37.544, "#F00000")
annotate_map(ax, CROSS_22, LABELS_22, ARROWS_22)
magnitude_key(ax, 141.904)
scale_bar(ax, 141.635, 141.862, 37.449, 9)
ax.text(141.262, 38.07, "Fault Model 2022", fontsize=13.5, ha="left", va="center", zorder=10)


# --- depth sections ---
def section_panel(left, key, small, big, faults, color, small_size):
    info = SECTIONS[key]
    ax = add_box(left, 493, left + 139.5, 633)
    ax.set_xlim(-15, 15)
    ax.set_ylim(70, 40)
    ax.set_xticks(range(-15, 16, 5))
    ax.set_yticks(range(40, 71, 5))
    ax.set_xticks(range(-15, 16), minor=True)
    ax.set_yticks(range(40, 71), minor=True)
    ax.tick_params(which="major", direction="out", length=3, width=0.8, color=GREY, labelsize=11, pad=1.5,
                   top=True, right=True)
    ax.tick_params(which="minor", direction="out", length=1.5, width=0.6, color=GREY, top=True, right=True)
    for side in ax.spines.values():
        side.set_color(GREY)
        side.set_linewidth(1.2)
    (x0, y0), (x1, y1) = info["dash"]
    draw_line(ax, [x0, x1], [y0, y1], color=ISO, linewidth=1.1, linestyle=(0, (6, 3)), zorder=1)
    (x0, y0), (x1, y1) = info["dot"]
    draw_line(ax, [x0, x1], [y0, y1], color="#999999", linewidth=1.0, linestyle=(0, (1, 2)), zorder=1)
    draw_quakes(ax, small, color, small_size, zorder=2)
    draw_quakes(ax, big, color, 28, zorder=2)
    for fault in faults:
        pts = np.array(fault)
        draw_line(ax, pts[:, 0], pts[:, 1], color=BLUE, linewidth=1.3, zorder=3)
    ax.set_xlabel("km", fontsize=10.8, labelpad=-1)
    ax.set_ylabel("depth(km)", fontsize=10.8, labelpad=-1)
    ax.text(-14, 67.7, key, fontsize=10.8, ha="left", va="center")
    ax.text(14.2, 67.7, info["strike"], fontsize=10.8, ha="right", va="center")
    ax.text(*info["left_pos"], info["left"], fontsize=10.8, ha="center", va="center")
    ax.text(*info["right_pos"], info["right"], fontsize=10.8, ha="center", va="center")
    return ax


ax = section_panel(56.7, "21a", SECTION_21A, SECTION_21A_BIG, FAULTS_21A, ORANGE, 11)
for end in FAN_ENDS:
    draw_line(ax, [-12.1, end[0]], [40.1, end[1]], color="black", linewidth=0.9, zorder=5)
for text, x, y in FAN_LABELS:
    ax.text(x, y, text, fontsize=6, ha="center", va="center", color="#333333", zorder=5)
draw_star(ax, -0.9, 56.8, RED, zorder=5)
draw_star(ax, 5.7, 56.1, ORANGE, zorder=5)

ax = section_panel(245.7, "21c", SECTION_21C, SECTION_21C_BIG, FAULTS_21C, ORANGE, 11)
draw_star(ax, -0.8, 56.8, RED, zorder=5)

ax = section_panel(430, "22b", SECTION_22B, SECTION_22B_BIG, FAULTS_22B, RED, 16)

ax = section_panel(612.3, "22c", SECTION_22C, SECTION_22C_BIG, FAULTS_22C, RED, 16)
draw_star(ax, 5.0, 55.9, ORANGE, zorder=5)
ax.text(18.7, 45, r"M$_{\mathrm{JMA}}$", fontsize=10.8, ha="center", va="center", clip_on=False)
sns.scatterplot(x=[17.7] * len(SEC_MAG_DEPTHS), y=SEC_MAG_DEPTHS, size=SEC_MAG_SIZES, sizes=(0.8, 30),
                facecolor="white", edgecolor="#222222", linewidth=0.9, legend=False, clip_on=False, ax=ax)
for label, depth in zip(SEC_MAG_LABELS, SEC_MAG_DEPTHS):
    ax.text(20.4, depth, label, fontsize=10.8, ha="center", va="center", clip_on=False)

# --- slip distributions ---
ax = add_box(865, 116, 1272, 628)
style_map(ax, 13.3, 13.3)
ax.tick_params(which="major", pad=5)
draw_base(ax)
iso_labels(ax, ISO_LABELS_SLIP, 8.9)
slip_cmap = ListedColormap(sns.color_palette(SLIP_COLORS))
slip_cmap.set_over("#C00000")
slip_norm = BoundaryNorm(SLIP_BOUNDS, slip_cmap.N)
patches = [(SHIFT_LEFT, SHIFT_RIGHT, SHIFT_COLS, SLIP_SHIFT),
           (NORTH_LEFT, NORTH_RIGHT, NORTH_COLS, SLIP_NORTH),
           (SOUTH_LEFT, SOUTH_RIGHT, SOUTH_COLS, SLIP_SOUTH),
           (GRID22_LEFT[:6], GRID22_RIGHT[:6], GRID22_COLS, SLIP_22)]
for left_edge, right_edge, cols, slip in patches:
    x, y = grid_nodes(left_edge, right_edge, cols)
    ax.pcolormesh(x, y, np.array(slip), cmap=slip_cmap, norm=slip_norm, edgecolors="black", linewidth=0.55,
                  shading="flat", zorder=3)
draw_line(ax, COAST_LON, COAST_LAT, color=MAGENTA, linewidth=1.3, zorder=4)
draw_line(ax, RECT_LON, RECT_LAT, color="#0A14F0", linewidth=3.3, zorder=5)
ax.annotate("", xy=(141.507, 37.858), xytext=(141.533, 37.743), zorder=4,
            arrowprops=dict(arrowstyle="-|>,head_width=0.3,head_length=0.7", color=GREY, lw=1.5, shrinkA=0, shrinkB=0))
draw_star(ax, *EPI_RED, RED, size=140)
draw_star(ax, *EPI_ORANGE, ORANGE, size=140)
scale_bar(ax, 141.686, 141.913, 37.448, 13.5)
ax.text(141.938, 38.08, "Slip distributions", fontsize=16.4, ha="right", va="center", zorder=10)

cax = add_box(906, 315.5, 919, 418)
bar = fig.colorbar(ScalarMappable(norm=slip_norm, cmap=slip_cmap), cax=cax, extend="max", extendfrac=0.09,
                   ticks=SLIP_BOUNDS, drawedges=False)
bar.ax.tick_params(labelsize=13.3, length=4, width=0.8, color=GREY, pad=1.5)
bar.outline.set_edgecolor("black")
bar.outline.set_linewidth(0.8)
bar.set_label("[m]", fontsize=14, labelpad=7)

fig.savefig("out.png", dpi=100)
plt.close(fig)
